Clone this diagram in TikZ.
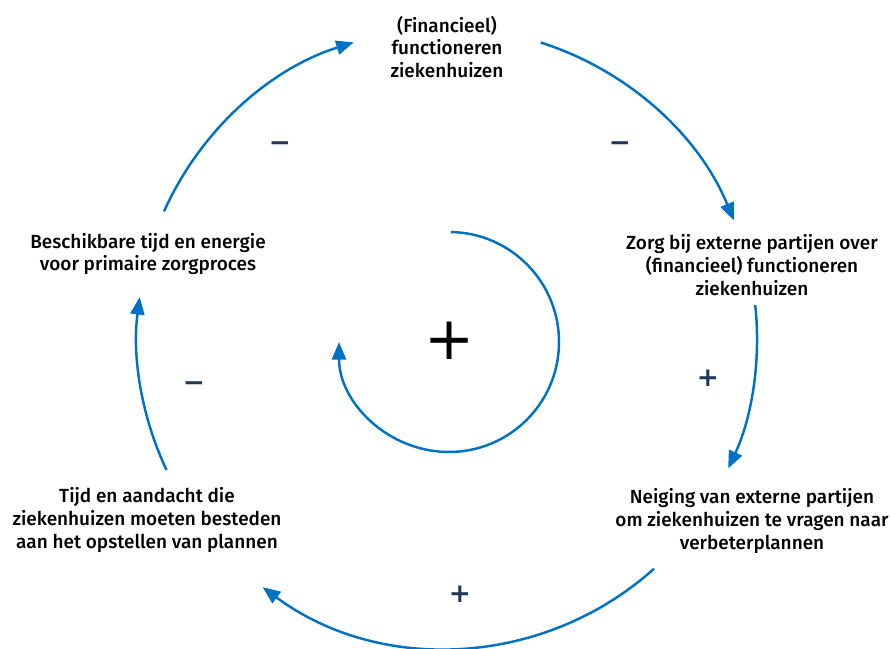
\documentclass[tikz,border=0pt]{standalone}
\usepackage{fontspec}
\setmainfont{Fira Sans Medium}
\newfontfamily\signfont{DejaVu Sans}
\usepackage{xcolor}
\definecolor{loop-blue}{RGB}{0,114,198}
\definecolor{sign-navy}{RGB}{30,57,92}
\usetikzlibrary{arrows.meta}

\begin{document}
\begin{tikzpicture}[x=0.02cm,y=0.02cm,>={Triangle[length=10pt,width=8pt]},
	factor/.style={align=center,font=\fontsize{10.8}{13}\selectfont},
	minussign/.style={text=sign-navy,font=\signfont\bfseries\fontsize{15}{15}\selectfont},
	plussign/.style={text=sign-navy,font=\signfont\bfseries\fontsize{15}{15}\selectfont}]
	
	\useasboundingbox (0,0) rectangle (890,649);
	
	\coordinate (H) at (447,311); % center of the outer loop
	\coordinate (I) at (449,307); % center of the inner loop
	\def\R{310}
	
	\node[factor] (fin) at (447,602) {(Financieel)\\functioneren\\ziekenhuizen};
	\node[factor] (zorg) at (752,384) {Zorg bij externe partijen over\\(financieel) functioneren\\ziekenhuizen};
	\node[factor] (neig) at (752,128) {Neiging van externe partijen\\om ziekenhuizen te vragen naar\\verbeterplannen};
	\node[factor] (tijd) at (147,129) {Tijd en aandacht die\\ziekenhuizen moeten besteden\\aan het opstellen van plannen};
	\node[factor] (besch) at (148,395) {Beschikbare tijd en energie\\voor primaire zorgproces};
	
	\draw[->,line width=1.4pt,loop-blue]
		(H)++(155.9:\R) arc[start angle=155.9,end angle=107.5,radius=\R];
	\draw[->,line width=1.4pt,loop-blue]
		(H)++(72.4:\R) arc[start angle=72.4,end angle=22.3,radius=\R];
	\draw[->,line width=1.4pt,loop-blue]
		(H)++(6.1:\R) arc[start angle=6.1,end angle=-24.9,radius=\R];
	\draw[->,line width=1.4pt,loop-blue]
		(H)++(-48.1:\R) arc[start angle=-48.1,end angle=-126.5,radius=\R];
	\draw[->,line width=1.4pt,loop-blue]
		(H)++(205.2:\R) arc[start angle=205.2,end angle=172.4,radius=\R];
	
	% inner loop
	\draw[->,line width=1.4pt,loop-blue]
		(I)++(89:110) arc[start angle=89,end angle=-180,radius=110];
	\node (big) at (450,308) {\signfont\fontsize{34}{34}\selectfont +};
	
	\path
		(280,502) node[minussign] (s1) {−}
		(620,502) node[minussign] (s2) {−}
		(708,271) node[plussign] (s3) {+}
		(460,55) node[plussign] (s4) {+}
		(194,262) node[minussign] (s5) {−};
	
\end{tikzpicture}
\end{document}
